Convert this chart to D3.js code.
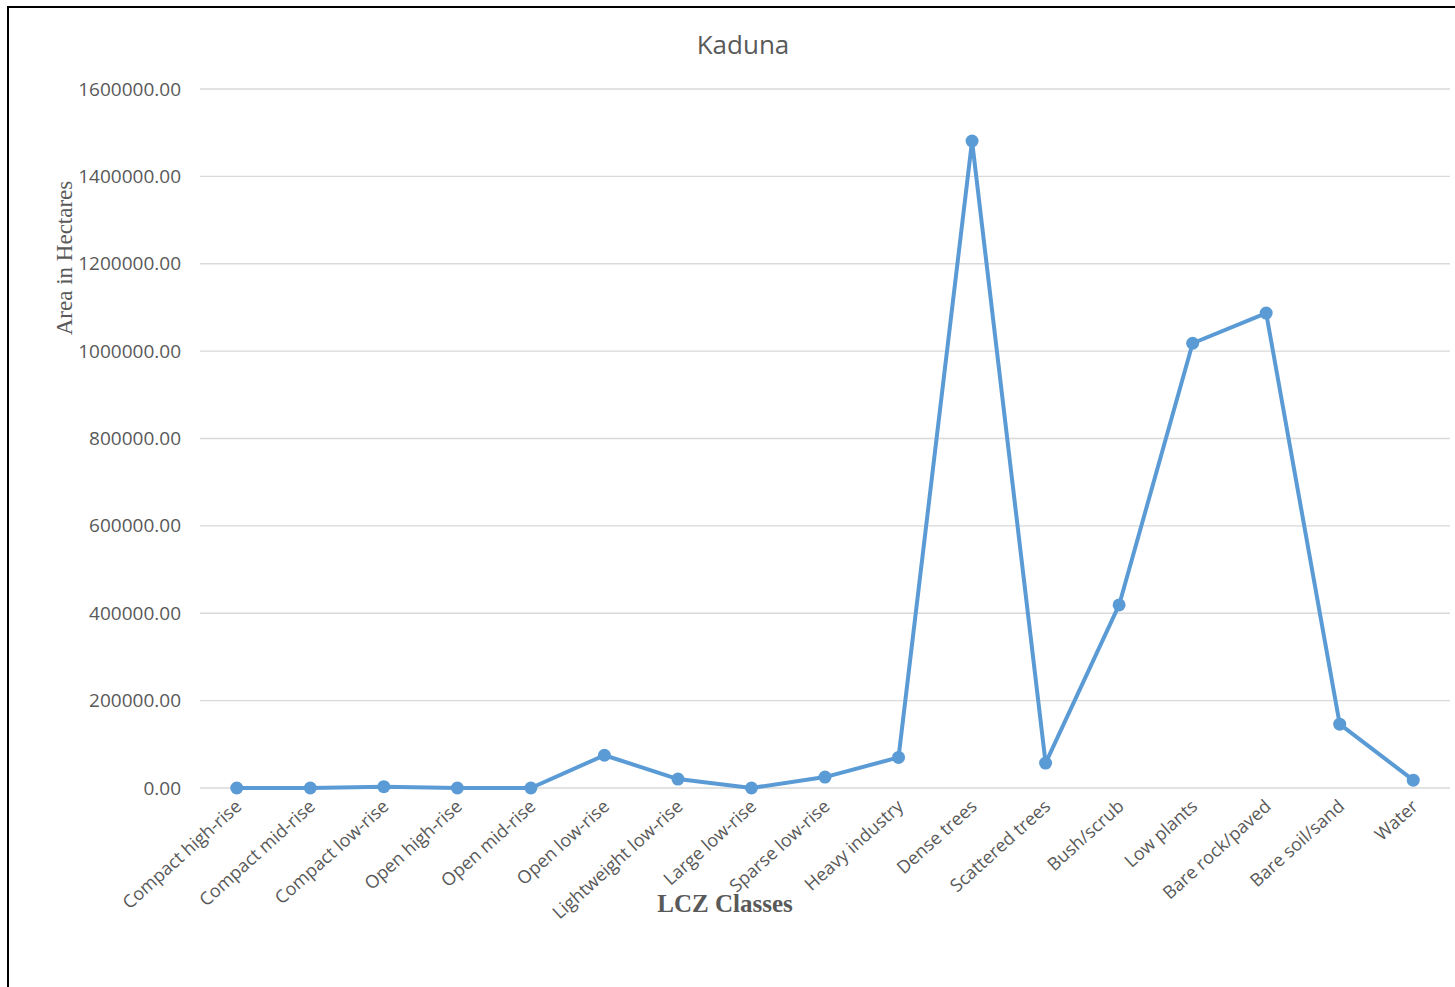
<!DOCTYPE html>
<html>
<head>
<meta charset="utf-8">
<script src="https://cdn.jsdelivr.net/npm/d3@7"></script>
<style>
  html, body { margin: 0; padding: 0; background: #fff; }
  #chart { width: 1455px; height: 987px; }
</style>
</head>
<body>
<div id="chart"></div>
<script>
// LCZ classes and their areas (hectares)
const categories = ["Compact high-rise", "Compact mid-rise", "Compact low-rise", "Open high-rise",
    "Open mid-rise", "Open low-rise", "Lightweight low-rise", "Large low-rise", "Sparse low-rise",
    "Heavy industry", "Dense trees", "Scattered trees", "Bush/scrub", "Low plants",
    "Bare rock/paved", "Bare soil/sand", "Water"];
const areas = [0, 0, 3000, 0, 0, 75000, 20500, 0, 25000, 70000, 1481000, 57000, 419000,
    1018000, 1087000, 146000, 18000];
const yTicks = [0, 200000, 400000, 600000, 800000, 1000000, 1200000, 1400000, 1600000];

const width = 1455, height = 987;
const svg = d3.select("#chart").append("svg")
    .attr("width", width)
    .attr("height", height);

// outer frame (only top and left edges show in the crop)
svg.append("path")
    .attr("d", `M8,${height} L8,7 L${width},7`)
    .attr("fill", "none")
    .attr("stroke", "#000")
    .attr("stroke-width", 2);

let x = d3.scaleBand().domain(categories).range([200, 1450]);
let y = d3.scaleLinear().domain([0, 1600000]).range([788, 89]);

// gridlines
svg.append("g")
    .selectAll("line")
    .data(yTicks)
    .enter()
    .append("line")
    .attr("x1", 200).attr("x2", 1450)
    .attr("y1", d => y(d)).attr("y2", d => y(d))
    .attr("stroke", "#d9d9d9")
    .attr("stroke-width", 1.3);

// y axis labels
let yAxis = svg.append("g")
    .attr("transform", "translate(200,0)")
    .call(d3.axisLeft(y).tickValues(yTicks).tickFormat(d3.format(".2f")).tickSize(0).tickPadding(19));
yAxis.select(".domain").remove();
yAxis.selectAll("text")
    .attr("font-family", "'Open Sans', sans-serif")
    .attr("font-size", 19)
    .attr("fill", "#595959");

// x axis labels
let xAxis = svg.append("g")
    .attr("transform", "translate(0,788)")
    .call(d3.axisBottom(x).tickSize(0).tickPadding(0));
xAxis.select(".domain").remove();
xAxis.selectAll("text")
    .attr("font-family", "'Open Sans', sans-serif")
    .attr("font-size", 18)
    .attr("fill", "#595959")
    .attr("text-anchor", "end")
    .attr("dy", 0)
    .attr("transform", "translate(6,20) rotate(-42)");

// line and markers
let line = d3.line()
    .x((d, i) => x(categories[i]) + x.bandwidth() / 2)
    .y(d => y(d));

svg.append("path")
    .datum(areas)
    .attr("d", line)
    .attr("fill", "none")
    .attr("stroke", "#5b9bd5")
    .attr("stroke-width", 4)
    .attr("stroke-linejoin", "round");

svg.selectAll(".dot")
    .data(areas)
    .enter()
    .append("circle")
    .attr("class", "dot")
    .attr("cx", (d, i) => x(categories[i]) + x.bandwidth() / 2)
    .attr("cy", d => y(d))
    .attr("r", 6.5)
    .attr("fill", "#5b9bd5");

// titles
svg.append("text")
    .attr("x", 743).attr("y", 54)
    .attr("text-anchor", "middle")
    .attr("font-family", "'Open Sans', sans-serif")
    .attr("font-size", 26)
    .attr("fill", "#595959")
    .text("Kaduna");

svg.append("text")
    .attr("transform", "translate(72,258) rotate(-90)")
    .attr("text-anchor", "middle")
    .attr("font-family", "'Liberation Serif', 'Times New Roman', serif")
    .attr("font-size", 23)
    .attr("fill", "#595959")
    .text("Area in Hectares");

svg.append("text")
    .attr("x", 725).attr("y", 912)
    .attr("text-anchor", "middle")
    .attr("font-family", "'Liberation Serif', 'Times New Roman', serif")
    .attr("font-size", 25)
    .attr("font-weight", "bold")
    .attr("fill", "#595959")
    .text("LCZ Classes");
</script>
</body>
</html>
